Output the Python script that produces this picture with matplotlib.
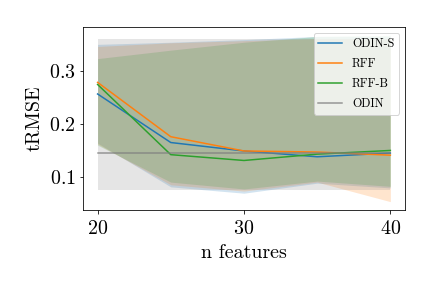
import numpy as np
import matplotlib
matplotlib.use('Agg')
import matplotlib.pyplot as plt

plt.rcParams['font.family'] = 'serif'
plt.rcParams['font.serif'] = ['cmr10']
plt.rcParams['mathtext.fontset'] = 'cm'
plt.rcParams['axes.formatter.use_mathtext'] = True

n_features = [20, 25, 30, 35, 40]

odin_s = [0.257, 0.165, 0.149, 0.138, 0.145]
odin_s_lo = [0.164, 0.081, 0.069, 0.088, 0.079]
odin_s_hi = [0.351, 0.355, 0.360, 0.366, 0.366]

rff = [0.279, 0.176, 0.149, 0.147, 0.141]
rff_lo = [0.162, 0.085, 0.073, 0.090, 0.053]
rff_hi = [0.347, 0.354, 0.358, 0.362, 0.362]

rff_b = [0.275, 0.142, 0.131, 0.143, 0.150]
rff_b_lo = [0.160, 0.090, 0.077, 0.092, 0.082]
rff_b_hi = [0.324, 0.340, 0.355, 0.366, 0.368]

odin = 0.146
odin_lo = 0.0755
odin_hi = 0.3617

fig, ax = plt.subplots(figsize=(6, 4), dpi=72)
fig.subplots_adjust(left=0.192, right=0.9375, top=0.906, bottom=0.271)

series = [('ODIN-S', odin_s, odin_s_lo, odin_s_hi, 'tab:blue'),
          ('RFF', rff, rff_lo, rff_hi, 'tab:orange'),
          ('RFF-B', rff_b, rff_b_lo, rff_b_hi, 'tab:green')]
for name, mean, lo, hi, c in series:
    ax.plot(n_features, mean, color=c, lw=1.5, label=name)
    ax.fill_between(n_features, lo, hi, color=c, alpha=0.2, lw=0)

x = np.array(n_features)
ax.plot(x, np.full(len(x), odin), color='tab:gray', lw=1.5, alpha=0.8, label='ODIN')
ax.fill_between(x, np.full(len(x), odin_lo), np.full(len(x), odin_hi), color='tab:gray', alpha=0.2, lw=0)

ax.set_xticks([20, 30, 40])
ax.set_yticks([0.1, 0.2, 0.3])
ax.tick_params(labelsize=20)
ax.tick_params(axis='x', pad=7)
ax.set_xlabel('n features', fontsize=20, labelpad=6)
ax.set_ylabel('tRMSE', fontsize=20, labelpad=6)
ax.legend(loc='upper right', fontsize=12, labelspacing=0.65)

fig.savefig('out.png', dpi=72)
